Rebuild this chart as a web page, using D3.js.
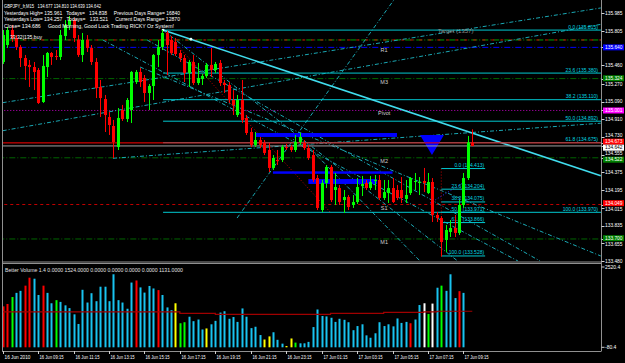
<!DOCTYPE html>
<html>
<head>
<meta charset="utf-8">
<script src="https://cdn.jsdelivr.net/npm/d3@7"></script>
<style>
body { margin: 0; background: #000; }
svg { display: block; }
text { font-family: "Liberation Sans", Arial, sans-serif; white-space: pre; }
</style>
</head>
<body>
<div id="chart"></div>
<script>
////////////////////////////////////////////////////////////
//////////////////////// Data //////////////////////////////
////////////////////////////////////////////////////////////
// GBPJPY M15, one bar every 15 min from 16 Jun 07:15
var opens  = [135.492,135.664,135.816,135.735,135.644,135.532,135.462,135.441,135.411,135.087,
              135.441,135.583,135.553,135.543,135.755,135.867,135.917,135.715,135.563,135.715,
              135.634,135.492,135.239,135.117,134.935,134.844,134.631,135.006,134.915,135.006,
              135.289,135.391,135.330,135.178,135.249,135.563,135.644,135.786,135.715,135.694,
              135.583,135.532,135.381,135.492,135.279,135.320,135.350,135.462,135.411,135.482,
              135.279,135.259,135.107,134.955,135.107,134.925,134.783,134.652,134.702,134.672,
              134.601,134.419,134.500,134.500,134.631,134.631,134.601,134.682,134.672,134.621,
              134.550,134.317,133.993,134.267,134.429,134.196,134.216,134.094,134.125,134.044,
              134.074,134.236,134.267,134.216,134.287,134.297,134.115,134.165,134.216,134.196,
              134.196,134.105,134.165,134.277,134.267,134.287,134.165,134.277,133.943,133.912,
              133.690,133.771,133.811,133.761,134.044,134.317,134.677];
var highs  = [135.816,135.846,135.867,135.765,135.664,135.563,135.512,135.492,135.431,135.563,
              135.593,135.593,135.613,135.816,135.917,135.958,135.937,135.765,135.786,135.765,
              135.664,135.532,135.310,135.158,134.986,134.905,135.026,135.057,135.127,135.401,
              135.411,135.431,135.360,135.269,135.573,135.715,135.816,135.806,135.755,135.735,
              135.613,135.563,135.512,135.563,135.482,135.370,135.482,135.634,135.492,135.512,
              135.310,135.289,135.208,135.158,135.310,134.955,134.824,134.783,134.733,134.702,
              134.672,134.550,134.601,134.652,134.662,134.652,134.753,134.773,134.702,134.652,
              134.601,134.348,134.297,134.449,134.449,134.368,134.246,134.196,134.145,134.145,
              134.317,134.338,134.297,134.338,134.348,134.348,134.297,134.297,134.317,134.246,
              134.327,134.297,134.327,134.368,134.327,134.419,134.368,134.317,133.973,133.932,
              133.842,133.892,133.943,134.094,134.368,134.743,134.810];
var lows   = [135.472,135.634,135.694,135.613,135.441,135.310,135.239,135.208,135.067,135.077,
              135.340,135.462,135.512,135.512,135.715,135.816,135.694,135.543,135.492,135.593,
              135.462,135.127,134.935,134.783,134.753,134.520,134.601,134.895,134.884,134.874,
              135.269,135.239,135.087,135.006,135.107,135.441,135.613,135.360,135.563,135.553,
              135.492,135.289,135.239,135.259,135.259,135.259,135.330,135.340,135.381,135.249,
              135.178,135.077,134.955,134.935,134.874,134.753,134.631,134.631,134.621,134.550,
              134.378,134.398,134.449,134.479,134.601,134.581,134.581,134.652,134.601,134.500,
              134.277,133.993,133.973,134.216,134.074,134.044,134.044,133.963,133.993,134.014,
              134.054,134.135,134.196,134.196,134.196,134.094,134.094,134.064,134.064,134.094,
              134.064,134.064,134.145,134.196,134.145,134.175,134.155,133.872,133.872,133.521,
              133.568,133.720,133.720,133.740,134.014,134.297,134.639];
var closes = [135.765,135.816,135.735,135.644,135.532,135.452,135.441,135.391,135.077,135.452,
              135.583,135.543,135.543,135.765,135.867,135.917,135.735,135.563,135.715,135.634,
              135.492,135.229,135.127,134.955,134.854,134.682,134.925,134.915,135.107,135.391,
              135.391,135.289,135.178,135.249,135.563,135.644,135.786,135.664,135.583,135.573,
              135.532,135.381,135.492,135.279,135.330,135.350,135.462,135.411,135.472,135.279,
              135.259,135.107,135.057,135.107,134.905,134.773,134.652,134.702,134.652,134.571,
              134.419,134.520,134.489,134.631,134.621,134.601,134.682,134.733,134.621,134.520,
              134.297,134.014,134.267,134.429,134.094,134.226,134.074,134.125,134.024,134.074,
              134.226,134.257,134.216,134.277,134.297,134.115,134.175,134.216,134.074,134.115,
              134.115,134.145,134.317,134.287,134.277,134.267,134.277,133.943,133.912,133.669,
              133.791,133.811,133.761,134.044,134.317,134.677,134.642];

// Better Volume histogram
var volumes = [1285,1360,1578,1708,1772,1935,2185,2153,1642,1935,
               1708,1382,1480,1425,1317,1230,1035,732,1805,1405,
               1698,1447,1902,1902,1447,2292,1480,1405,1210,2032,
               2097,1880,1717,1925,1847,1795,1642,1252,1165,1382,
               755,787,960,820,872,560,592,722,830,1090,
               1132,895,950,797,1220,960,602,645,385,245,
               342,472,235,115,40,277,147,125,125,170,
               635,1187,982,970,927,797,895,862,787,537,
               667,722,375,300,440,787,667,722,657,905,
               765,797,755,872,1327,1382,1047,1372,1870,1935,
               1772,2292,1545,1762,1708,2455,1524];
// r = climax down, g = churn, y = low volume, w = climax churn, c = neutral
var volumeKinds = "rrgccrrccrccgcccccccccccccccccrccccrcccyggccccyccccccccccccyycccyygcccccccccccccccccccccccccrccwgwcgcccrc";
var avgStart = [0, 40, 48, 74, 86, 95, 98];
var avgValue = [1110, 1065, 1035, 1065, 1095, 1110, 1131];

var timeLabels = ["16 Jun 2010","16 Jun 09:15","16 Jun 11:15","16 Jun 13:15","16 Jun 15:15",
                  "16 Jun 17:15","16 Jun 19:15","16 Jun 21:15","16 Jun 23:15","17 Jun 01:15",
                  "17 Jun 03:15","17 Jun 05:15","17 Jun 07:15","17 Jun 09:15"];
var timeLabelBars = [0, 8, 16, 24, 32, 40, 48, 56, 64, 72, 80, 88, 96, 104];

var priceTicks = [135.985, 135.805, 135.460, 135.270, 135.090, 134.910, 134.730,
                  134.555, 134.375, 134.195, 134.015, 133.835, 133.655, 133.480];
var tagPrices = [135.640, 135.324, 135.001, 134.673, 134.642, 134.522, 134.049, 133.700];
var tagColors = ["#0000ff", "#008000", "#ff00ff", "#ff0000", "#ffffff", "#008000", "#ff0000", "#008000"];

// pivot levels
var pivotPrices = [135.715, 135.640, 135.324, 135.001, 134.522, 134.049, 133.700];
var pivotNames  = ["", "R1", "M3", "Pivot", "M2", "S1", "M1"];
var pivotColors = ["#00a000", "#0000ff", "#006400", "#c000c0", "#006400", "#c00000", "#006400"];

// Fibonacci retracements
var fibLevels = [0.0, 23.6, 38.2, 50.0, 61.8, 100.0];
var bigFibHigh = 135.815, bigFibLow = 133.970;
var smallFibHigh = 134.413, smallFibLow = 133.528;

////////////////////////////////////////////////////////////
//////////////////////// Set-Up ////////////////////////////
////////////////////////////////////////////////////////////
var width = 625, height = 363;
var mainTop = 0, mainBottom = 261.5, volTop = 263, volBottom = 351;
var plotLeft = 2, plotRight = 601.5;

var x = d3.scaleLinear().domain([0, 135]).range([2.7, 600.75]);
var y = d3.scaleLinear().domain([133.480, 135.985]).range([260.7, 13.3]);
var yVol = d3.scaleLinear().domain([0, 2520.4]).range([347.3, 267]);

var svg = d3.select("#chart").append("svg")
            .attr("width", width)
            .attr("height", height);

svg.append("rect").attr("width", width).attr("height", height).attr("fill", "#000");

var defs = svg.append("defs");
defs.append("clipPath").attr("id", "clipMain")
    .append("rect").attr("x", plotLeft).attr("y", mainTop)
    .attr("width", plotRight - plotLeft).attr("height", mainBottom - mainTop);

var main = svg.append("g").attr("clip-path", "url(#clipMain)");

function hLine(g, price, i1, i2, color, dash, w) {
  return g.append("line")
          .attr("x1", x(i1)).attr("x2", x(i2))
          .attr("y1", y(price)).attr("y2", y(price))
          .attr("stroke", color).attr("stroke-width", w || 1)
          .attr("stroke-dasharray", dash || null);
}

function tLine(g, seg, color, dash, w) {
  return g.append("line")
          .attr("x1", x(seg[0])).attr("y1", y(seg[1]))
          .attr("x2", x(seg[2])).attr("y2", y(seg[3]))
          .attr("stroke", color).attr("stroke-width", w || 1)
          .attr("stroke-dasharray", dash || null);
}

// Pivot lines
pivotPrices.forEach(function(p, k) {
  var dash = k === 3 ? "1,2" : (k === 5 ? "3,3" : "6,2,1,2");
  hLine(main, p, -1, 136, pivotColors[k], dash, 1);
  if (k === 0) hLine(main, p, -1, 136, "#d00000", "3,6", 1).attr("stroke-dashoffset", 2);
  if (pivotNames[k]) {
    main.append("text").attr("x", x(86.1)).attr("y", y(p) + 5)
        .attr("text-anchor", "middle").attr("fill", "#d0d0d0")
        .attr("font-size", "5.5px").text(pivotNames[k]);
  }
});

// Dashed channel / fan lines
var dashLines = [[0, 135.080, 135, 136.039],
                 [0, 134.796, 135, 135.873],
                 [24.9, 134.517, 135, 134.872],
                 [52.9, 133.912, 88.3, 136.120],
                 [66.4, 134.753, 94.2, 133.477],
                 [36.2, 135.816, 102.7, 133.477],
                 [22.6, 135.715, 116.3, 133.477],
                 [32.6, 135.715, 121.3, 133.477],
                 [31.0, 135.441, 135, 133.528]];
dashLines.forEach(function(s) { tLine(main, s, "#1aa8b4", "4,2,1,2", 1); });

// red dotted guide lines
tLine(main, [36.2, 135.816, 73.9, 133.973], "#c00000", "1,2", 1);
tLine(main, [99, smallFibHigh, 99, smallFibLow], "#c00000", "1,2", 1);
tLine(main, [96.5, 134.064, 103.9, 134.267], "#3030ff", "1,2", 1);

// Big fib
fibLevels.forEach(function(f) {
  var p = bigFibHigh - (bigFibHigh - bigFibLow) * f / 100;
  hLine(main, p, 36.2, 136, "#00c8d0", null, 1);
  main.append("text").attr("x", 598).attr("y", y(p) - 1.5)
      .attr("text-anchor", "end").attr("fill", "#00d8e0")
      .attr("font-size", "5px")
      .text(f.toFixed(1) + " (" + p.toFixed(3) + ")");
});
// Small fib
fibLevels.forEach(function(f) {
  var p = smallFibHigh - (smallFibHigh - smallFibLow) * f / 100;
  hLine(main, p, 99, 108.9, "#00c8d0", null, 1);
  main.append("text").attr("x", x(108.9) - 1).attr("y", y(p) - 1.5)
      .attr("text-anchor", "end").attr("fill", "#00d8e0")
      .attr("font-size", "5px")
      .text(f.toFixed(1) + " (" + p.toFixed(3) + ")");
});

// Blue zones
var zoneStart = [57, 61, 69], zoneEnd = [89, 88, 84.5];
var zoneTop = [134.773, 134.385, 134.307], zoneBottom = [134.733, 134.360, 134.257];
zoneStart.forEach(function(s, k) {
  main.append("rect").attr("x", x(s)).attr("y", y(zoneTop[k]))
      .attr("width", x(zoneEnd[k]) - x(s)).attr("height", y(zoneBottom[k]) - y(zoneTop[k]))
      .attr("fill", "#0000ff");
});
main.append("path")
    .attr("d", "M" + x(94.2) + "," + y(134.753) + "L" + x(99.6) + "," + y(134.753) +
               "L" + x(96.9) + "," + y(134.550) + "Z")
    .attr("fill", "#0000ff");

// Thick trend line
tLine(main, [36.2, 135.815, 135, 134.340], "#40dced", null, 1.6);
[[36.2, 135.815], [42.5, 135.722]].forEach(function(pt) {
  main.append("circle").attr("cx", x(pt[0])).attr("cy", y(pt[1])).attr("r", 1.4)
      .attr("fill", "#e0ffff");
});

// Bid / Ask lines
hLine(main, 134.673, -1, 136, "#ff0000", null, 1);
hLine(main, 134.642, -1, 136, "#a0a0a0", null, 1);

// Candles
var candles = main.append("g");
opens.forEach(function(o, i) {
  var c = closes[i], up = c >= o;
  var col = up ? "#00ff00" : "#ff0000";
  var cx = Math.round(x(i)) + 0.5;
  candles.append("line").attr("x1", cx).attr("x2", cx)
         .attr("y1", y(highs[i])).attr("y2", y(lows[i]))
         .attr("stroke", col).attr("stroke-width", 1);
  var top = y(Math.max(o, c)), bot = y(Math.min(o, c));
  candles.append("rect").attr("x", cx - 1.5).attr("y", top)
         .attr("width", 3).attr("height", Math.max(1, bot - top))
         .attr("fill", col);
});

// Target text
main.append("text").attr("x", x(98.2)).attr("y", 33)
    .attr("fill", "#909090").attr("font-size", "6px").text("Target (1357)");

// Header text (widths as in the terminal)
var header = ["GBPJPY_fr,M15   134.677 134.810 134.639 134.642",
              "Yesterdays High= 135.961   Todays=   134.838     Previous Days Range= 16840",
              "Yesterdays Low= 134.257   Todays=   133.521     Current Days Range= 12870",
              "Close= 134.686     Good Morning, Good Luck Trading RICKY Oz System!"];
var headerWidth = [97, 176, 176, 170];
header.forEach(function(t, k) {
  svg.append("text").attr("x", 4).attr("y", 8 + k * 6.7)
     .attr("fill", "#ffffff").attr("font-size", "5.4px")
     .attr("textLength", headerWidth[k]).attr("lengthAdjust", "spacingAndGlyphs").text(t);
});
svg.append("text").attr("x", 10).attr("y", 39)
   .attr("fill", "#ffffff").attr("font-size", "5.4px")
   .attr("textLength", 32).attr("lengthAdjust", "spacingAndGlyphs").text("33:32|135.buy");

////////////////////////////////////////////////////////////
//////////////////////// Volume ////////////////////////////
////////////////////////////////////////////////////////////
var kindColor = { r: "#ff0000", g: "#00ff00", y: "#ffff00", w: "#ffffff", c: "#19c3f0" };
volumes.forEach(function(v, i) {
  svg.append("rect").attr("x", Math.round(x(i)) - 0.5).attr("y", yVol(v))
     .attr("width", 2).attr("height", yVol(0) - yVol(v))
     .attr("fill", kindColor[volumeKinds[i]]);
});
var avgPts = volumes.map(function(v, i) {
  var k = d3.bisectRight(avgStart, i) - 1;
  return [x(i), yVol(avgValue[k])];
});
svg.append("path").attr("d", d3.line().curve(d3.curveStepAfter)(avgPts))
   .attr("fill", "none").attr("stroke", "#a00000").attr("stroke-width", 1.2);
svg.append("text").attr("x", 5).attr("y", 272).attr("fill", "#e0e0e0")
   .attr("font-size", "5.2px")
   .attr("textLength", 178).attr("lengthAdjust", "spacingAndGlyphs")
   .text("Better Volume 1.4 0.0000 1524.0000 0.0000 0.0000 0.0000 0.0000 1131.0000");

////////////////////////////////////////////////////////////
//////////////////////// Frames & Axes /////////////////////
////////////////////////////////////////////////////////////
var frame = "#909090";
svg.append("line").attr("x1", plotLeft + 0.5).attr("x2", plotLeft + 0.5).attr("y1", 0).attr("y2", volBottom).attr("stroke", frame);
svg.append("line").attr("x1", plotRight).attr("x2", plotRight).attr("y1", 0).attr("y2", volBottom).attr("stroke", frame);
svg.append("line").attr("x1", plotLeft).attr("x2", plotRight).attr("y1", mainBottom + 0.5).attr("y2", mainBottom + 0.5).attr("stroke", frame);
svg.append("line").attr("x1", plotLeft).attr("x2", plotRight).attr("y1", volTop + 0.5).attr("y2", volTop + 0.5).attr("stroke", frame);
svg.append("line").attr("x1", plotLeft).attr("x2", plotRight).attr("y1", volBottom + 0.5).attr("y2", volBottom + 0.5).attr("stroke", frame);

// price axis: ticks + coloured tags, spread a little so none overlap
var axisItems = priceTicks.map(function(p) { return { p: p, tag: null, ty: y(p) }; })
  .concat(tagPrices.map(function(p, k) { return { p: p, tag: tagColors[k], ty: y(p) }; }));
axisItems.sort(function(a, b) { return a.ty - b.ty; });
for (var it = 0; it < 40; it++) {
  for (var k = 1; k < axisItems.length; k++) {
    var gap = axisItems[k].ty - axisItems[k - 1].ty;
    if (gap < 6) {
      var push = (6 - gap) / 2;
      axisItems[k - 1].ty -= push;
      axisItems[k].ty += push;
    }
  }
}
axisItems.forEach(function(d) {
  var ty = Math.round(y(d.p)) + 0.5;
  svg.append("line").attr("x1", plotRight).attr("x2", plotRight + 3)
     .attr("y1", ty).attr("y2", ty).attr("stroke", "#d0d0d0");
  if (d.tag) {
    svg.append("rect").attr("x", 603).attr("y", d.ty - 3).attr("width", 21).attr("height", 6)
       .attr("fill", d.tag);
  }
  svg.append("text").attr("x", 605).attr("y", d.ty + 1.8)
     .attr("fill", d.tag === "#ffffff" ? "#000" : "#ffffff")
     .attr("font-size", "5px")
     .attr("textLength", 17.5).attr("lengthAdjust", "spacingAndGlyphs")
     .text(d.p.toFixed(3));
});

// volume axis
[[2520.4, "2520.4"], [0, "-80.4"]].forEach(function(d) {
  svg.append("line").attr("x1", plotRight).attr("x2", plotRight + 3)
     .attr("y1", yVol(d[0])).attr("y2", yVol(d[0])).attr("stroke", "#d0d0d0");
  svg.append("text").attr("x", 605).attr("y", yVol(d[0]) + 2)
     .attr("fill", "#ffffff").attr("font-size", "5px").text(d[1]);
});

// time axis
timeLabels.forEach(function(t, k) {
  var tx = Math.round(x(timeLabelBars[k])) + 0.5;
  svg.append("line").attr("x1", tx).attr("x2", tx).attr("y1", volBottom).attr("y2", volBottom + 3)
     .attr("stroke", "#d0d0d0");
  svg.append("text").attr("x", tx + 1).attr("y", 358.5)
     .attr("fill", "#ffffff").attr("font-size", "5px")
     .attr("textLength", k === 0 ? 26 : 24).attr("lengthAdjust", "spacingAndGlyphs").text(t);
});
</script>
</body>
</html>
